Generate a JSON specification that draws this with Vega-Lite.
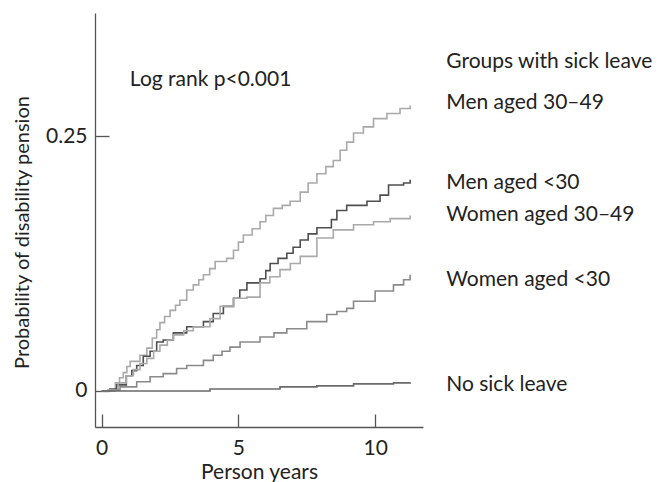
{
  "$schema": "https://vega.github.io/schema/vega-lite/v6.json",
  "autosize": {"type": "none"},
  "padding": {"left": 95, "top": 13, "right": 236, "bottom": 55},
  "width": 328,
  "height": 414,
  "background": "white",
  "config": {
    "view": {"stroke": null},
    "font": "Lato",
    "axis": {"grid": false, "domainColor": "#555", "tickColor": "#555", "labelColor": "#222", "titleColor": "#222", "labelFont": "Lato", "titleFont": "Lato", "labelFontSize": 21, "titleFontSize": 21, "titleFontWeight": "normal", "domainWidth": 1.3, "tickWidth": 1.3}
  },
  "datasets": {
    "curves": [
      {"group": "Men aged 30–49", "t": 0, "p": 0},
      {"group": "Men aged 30–49", "t": 0.24, "p": 0.001},
      {"group": "Men aged 30–49", "t": 0.5, "p": 0.008},
      {"group": "Men aged 30–49", "t": 0.65, "p": 0.013},
      {"group": "Men aged 30–49", "t": 0.79, "p": 0.018},
      {"group": "Men aged 30–49", "t": 0.92, "p": 0.024},
      {"group": "Men aged 30–49", "t": 1.04, "p": 0.029},
      {"group": "Men aged 30–49", "t": 1.4, "p": 0.035},
      {"group": "Men aged 30–49", "t": 1.65, "p": 0.042},
      {"group": "Men aged 30–49", "t": 1.85, "p": 0.052},
      {"group": "Men aged 30–49", "t": 2.01, "p": 0.06},
      {"group": "Men aged 30–49", "t": 2.13, "p": 0.067},
      {"group": "Men aged 30–49", "t": 2.3, "p": 0.073},
      {"group": "Men aged 30–49", "t": 2.5, "p": 0.079},
      {"group": "Men aged 30–49", "t": 2.7, "p": 0.084},
      {"group": "Men aged 30–49", "t": 2.86, "p": 0.089},
      {"group": "Men aged 30–49", "t": 3.11, "p": 0.099},
      {"group": "Men aged 30–49", "t": 3.35, "p": 0.104},
      {"group": "Men aged 30–49", "t": 3.55, "p": 0.109},
      {"group": "Men aged 30–49", "t": 3.72, "p": 0.114},
      {"group": "Men aged 30–49", "t": 3.95, "p": 0.12},
      {"group": "Men aged 30–49", "t": 4.15, "p": 0.127},
      {"group": "Men aged 30–49", "t": 4.57, "p": 0.13},
      {"group": "Men aged 30–49", "t": 4.82, "p": 0.138},
      {"group": "Men aged 30–49", "t": 5.0, "p": 0.146},
      {"group": "Men aged 30–49", "t": 5.18, "p": 0.153},
      {"group": "Men aged 30–49", "t": 5.5, "p": 0.159},
      {"group": "Men aged 30–49", "t": 5.79, "p": 0.166},
      {"group": "Men aged 30–49", "t": 6.0, "p": 0.172},
      {"group": "Men aged 30–49", "t": 6.28, "p": 0.179},
      {"group": "Men aged 30–49", "t": 6.6, "p": 0.182},
      {"group": "Men aged 30–49", "t": 6.89, "p": 0.186},
      {"group": "Men aged 30–49", "t": 7.26, "p": 0.195},
      {"group": "Men aged 30–49", "t": 7.55, "p": 0.204},
      {"group": "Men aged 30–49", "t": 7.87, "p": 0.213},
      {"group": "Men aged 30–49", "t": 8.2, "p": 0.22},
      {"group": "Men aged 30–49", "t": 8.47, "p": 0.226},
      {"group": "Men aged 30–49", "t": 8.72, "p": 0.236},
      {"group": "Men aged 30–49", "t": 8.96, "p": 0.244},
      {"group": "Men aged 30–49", "t": 9.21, "p": 0.253},
      {"group": "Men aged 30–49", "t": 9.57, "p": 0.259},
      {"group": "Men aged 30–49", "t": 9.94, "p": 0.267},
      {"group": "Men aged 30–49", "t": 10.43, "p": 0.272},
      {"group": "Men aged 30–49", "t": 10.91, "p": 0.277},
      {"group": "Men aged 30–49", "t": 11.28, "p": 0.28},

      {"group": "Men aged <30", "t": 0, "p": 0},
      {"group": "Men aged <30", "t": 0.3, "p": 0.002},
      {"group": "Men aged <30", "t": 0.55, "p": 0.006},
      {"group": "Men aged <30", "t": 0.9, "p": 0.015},
      {"group": "Men aged <30", "t": 1.1, "p": 0.02},
      {"group": "Men aged <30", "t": 1.28, "p": 0.025},
      {"group": "Men aged <30", "t": 1.52, "p": 0.034},
      {"group": "Men aged <30", "t": 1.77, "p": 0.039},
      {"group": "Men aged <30", "t": 2.01, "p": 0.048},
      {"group": "Men aged <30", "t": 2.25, "p": 0.05},
      {"group": "Men aged <30", "t": 2.62, "p": 0.057},
      {"group": "Men aged <30", "t": 3.11, "p": 0.063},
      {"group": "Men aged <30", "t": 3.72, "p": 0.068},
      {"group": "Men aged <30", "t": 4.08, "p": 0.076},
      {"group": "Men aged <30", "t": 4.45, "p": 0.083},
      {"group": "Men aged <30", "t": 4.82, "p": 0.091},
      {"group": "Men aged <30", "t": 5.05, "p": 0.099},
      {"group": "Men aged <30", "t": 5.31, "p": 0.106},
      {"group": "Men aged <30", "t": 5.79, "p": 0.11},
      {"group": "Men aged <30", "t": 6.0, "p": 0.118},
      {"group": "Men aged <30", "t": 6.16, "p": 0.125},
      {"group": "Men aged <30", "t": 6.45, "p": 0.13},
      {"group": "Men aged <30", "t": 6.77, "p": 0.135},
      {"group": "Men aged <30", "t": 7.0, "p": 0.141},
      {"group": "Men aged <30", "t": 7.26, "p": 0.148},
      {"group": "Men aged <30", "t": 7.55, "p": 0.154},
      {"group": "Men aged <30", "t": 7.87, "p": 0.16},
      {"group": "Men aged <30", "t": 8.4, "p": 0.168},
      {"group": "Men aged <30", "t": 8.6, "p": 0.177},
      {"group": "Men aged <30", "t": 8.96, "p": 0.182},
      {"group": "Men aged <30", "t": 9.7, "p": 0.186},
      {"group": "Men aged <30", "t": 10.18, "p": 0.192},
      {"group": "Men aged <30", "t": 10.49, "p": 0.202},
      {"group": "Men aged <30", "t": 11.04, "p": 0.204},
      {"group": "Men aged <30", "t": 11.28, "p": 0.207},

      {"group": "Women aged 30–49", "t": 0, "p": 0},
      {"group": "Women aged 30–49", "t": 0.23, "p": 0.001},
      {"group": "Women aged 30–49", "t": 0.6, "p": 0.008},
      {"group": "Women aged 30–49", "t": 0.9, "p": 0.015},
      {"group": "Women aged 30–49", "t": 1.16, "p": 0.021},
      {"group": "Women aged 30–49", "t": 1.4, "p": 0.027},
      {"group": "Women aged 30–49", "t": 1.65, "p": 0.032},
      {"group": "Women aged 30–49", "t": 1.9, "p": 0.039},
      {"group": "Women aged 30–49", "t": 2.13, "p": 0.045},
      {"group": "Women aged 30–49", "t": 2.4, "p": 0.05},
      {"group": "Women aged 30–49", "t": 2.62, "p": 0.055},
      {"group": "Women aged 30–49", "t": 3.0, "p": 0.059},
      {"group": "Women aged 30–49", "t": 3.35, "p": 0.063},
      {"group": "Women aged 30–49", "t": 3.96, "p": 0.071},
      {"group": "Women aged 30–49", "t": 4.33, "p": 0.083},
      {"group": "Women aged 30–49", "t": 4.82, "p": 0.091},
      {"group": "Women aged 30–49", "t": 5.31, "p": 0.092},
      {"group": "Women aged 30–49", "t": 5.79, "p": 0.106},
      {"group": "Women aged 30–49", "t": 6.15, "p": 0.112},
      {"group": "Women aged 30–49", "t": 6.52, "p": 0.119},
      {"group": "Women aged 30–49", "t": 6.9, "p": 0.125},
      {"group": "Women aged 30–49", "t": 7.26, "p": 0.132},
      {"group": "Women aged 30–49", "t": 7.87, "p": 0.15},
      {"group": "Women aged 30–49", "t": 8.47, "p": 0.158},
      {"group": "Women aged 30–49", "t": 9.21, "p": 0.163},
      {"group": "Women aged 30–49", "t": 9.94, "p": 0.166},
      {"group": "Women aged 30–49", "t": 10.55, "p": 0.169},
      {"group": "Women aged 30–49", "t": 11.28, "p": 0.172},

      {"group": "Women aged <30", "t": 0, "p": 0},
      {"group": "Women aged <30", "t": 0.49, "p": 0.001},
      {"group": "Women aged <30", "t": 0.67, "p": 0.004},
      {"group": "Women aged <30", "t": 1.28, "p": 0.009},
      {"group": "Women aged <30", "t": 1.77, "p": 0.014},
      {"group": "Women aged <30", "t": 2.25, "p": 0.017},
      {"group": "Women aged <30", "t": 2.74, "p": 0.022},
      {"group": "Women aged <30", "t": 3.11, "p": 0.025},
      {"group": "Women aged <30", "t": 3.72, "p": 0.03},
      {"group": "Women aged <30", "t": 4.08, "p": 0.035},
      {"group": "Women aged <30", "t": 4.4, "p": 0.039},
      {"group": "Women aged <30", "t": 4.69, "p": 0.043},
      {"group": "Women aged <30", "t": 5.06, "p": 0.048},
      {"group": "Women aged <30", "t": 5.79, "p": 0.053},
      {"group": "Women aged <30", "t": 6.3, "p": 0.057},
      {"group": "Women aged <30", "t": 6.77, "p": 0.061},
      {"group": "Women aged <30", "t": 7.5, "p": 0.068},
      {"group": "Women aged <30", "t": 8.23, "p": 0.075},
      {"group": "Women aged <30", "t": 8.6, "p": 0.078},
      {"group": "Women aged <30", "t": 8.96, "p": 0.081},
      {"group": "Women aged <30", "t": 9.21, "p": 0.088},
      {"group": "Women aged <30", "t": 10.0, "p": 0.098},
      {"group": "Women aged <30", "t": 10.67, "p": 0.104},
      {"group": "Women aged <30", "t": 11.04, "p": 0.109},
      {"group": "Women aged <30", "t": 11.28, "p": 0.114},

      {"group": "No sick leave", "t": 0, "p": 0},
      {"group": "No sick leave", "t": 3.96, "p": 0.002},
      {"group": "No sick leave", "t": 6.52, "p": 0.004},
      {"group": "No sick leave", "t": 7.87, "p": 0.005},
      {"group": "No sick leave", "t": 9.21, "p": 0.007},
      {"group": "No sick leave", "t": 10.67, "p": 0.008},
      {"group": "No sick leave", "t": 11.28, "p": 0.0085}
    ],
    "labels": [
      {"text": "Groups with sick leave", "t": 12.6, "p": 0.3225},
      {"text": "Men aged 30–49", "t": 12.6, "p": 0.2824},
      {"text": "Men aged <30", "t": 12.6, "p": 0.2039},
      {"text": "Women aged 30–49", "t": 12.6, "p": 0.1725},
      {"text": "Women aged <30", "t": 12.6, "p": 0.1088},
      {"text": "No sick leave", "t": 12.6, "p": 0.0059},
      {"text": "Log rank p<0.001", "t": 1.03, "p": 0.305}
    ]
  },
  "layer": [
    {
      "data": {"name": "curves"},
      "mark": {"type": "line", "interpolate": "step-after", "strokeWidth": 1.6},
      "encoding": {
        "x": {"field": "t", "type": "quantitative", "scale": {"domain": [-0.245, 11.75], "nice": false, "zero": false},
          "axis": {"values": [0, 5, 10], "title": "Person years", "tickSize": -13, "labelPadding": 23, "titleY": 51, "titleBaseline": "alphabetic", "format": "d"}},
        "y": {"field": "p", "type": "quantitative", "scale": {"domain": [-0.0353, 0.3706], "nice": false, "zero": false},
          "axis": {"values": [0, 0.25], "format": ".2~f", "title": "Probability of disability pension", "titleFontSize": 20, "tickSize": -14, "labelPadding": 22, "titleX": -73, "titleY": 219, "titleAngle": -90, "titleAlign": "center", "titleBaseline": "middle"}},
        "color": {"field": "group", "type": "nominal", "legend": null,
          "scale": {"domain": ["Men aged 30–49", "Men aged <30", "Women aged 30–49", "Women aged <30", "No sick leave"],
                    "range": ["#a9a9a9", "#4f4f4f", "#a9a9a9", "#8a8a8a", "#6a6a6a"]}},
        "detail": {"field": "group"}
      }
    },
    {
      "data": {"name": "labels"},
      "mark": {"type": "text", "align": "left", "baseline": "middle", "fontSize": 21, "font": "Lato", "color": "#222"},
      "encoding": {
        "x": {"field": "t", "type": "quantitative"},
        "y": {"field": "p", "type": "quantitative"},
        "text": {"field": "text"}
      }
    }
  ]
}
